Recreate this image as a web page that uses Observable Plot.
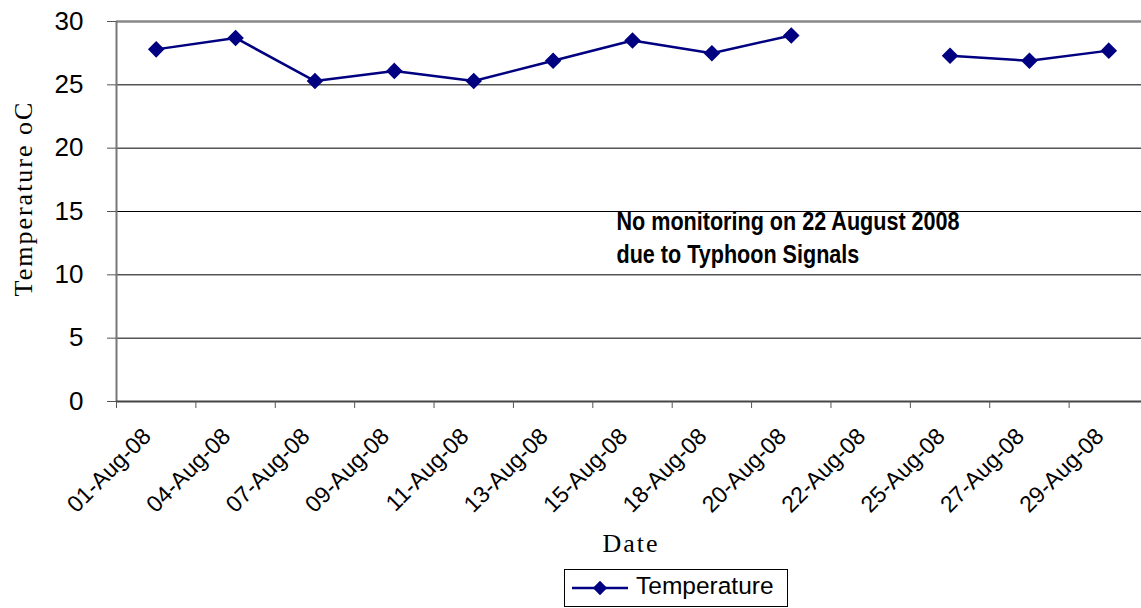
<!DOCTYPE html>
<html>
<head>
<meta charset="utf-8">
<script src="https://cdn.jsdelivr.net/npm/d3@7"></script>
<script src="https://cdn.jsdelivr.net/npm/@observablehq/plot@0.6"></script>
<style>
  html, body { margin: 0; padding: 0; background: #fff; }
  #wrap { position: relative; width: 1141px; height: 608px; overflow: hidden; }
  #legend { position: absolute; left: 564px; top: 569px; width: 222px; height: 36px; border: 1px solid #000; background: #fff; }
  #legend span { position: absolute; left: 71px; top: 2px; font: 24.5px "Liberation Sans", Arial, sans-serif; color: #000; white-space: nowrap; }
</style>
</head>
<body>
<div id="wrap"></div>
<script>
const dates = ["01-Aug-08","04-Aug-08","07-Aug-08","09-Aug-08","11-Aug-08","13-Aug-08","15-Aug-08","18-Aug-08","20-Aug-08","22-Aug-08","25-Aug-08","27-Aug-08","29-Aug-08"];
const temps = [27.8, 28.7, 25.3, 26.1, 25.3, 26.9, 28.5, 27.5, 28.9, null, 27.3, 26.9, 27.7];
const yTicks = [0, 5, 10, 15, 20, 25, 30];
const seriesName = "Temperature";
const note = "No monitoring on 22 August 2008\ndue to Typhoon Signals";
const xTitle = "Date";
const yTitle = "Temperature oC";

const data = dates.map((d, i) => ({i, date: d, t: temps[i]}));
const idx = d3.range(dates.length);
const bounds = d3.range(dates.length + 1).map(k => k - 0.5);
const navy = "#000080";

const chart = Plot.plot({
  width: 1141,
  height: 565,
  marginLeft: 116,
  marginRight: 0,
  marginTop: 21,
  marginBottom: 164,
  x: {type: "linear", domain: [-0.5, dates.length - 0.5], range: [116, 1148]},
  y: {domain: [0, 30], range: [401, 21]},
  style: {fontFamily: "'Liberation Sans', Arial, sans-serif", color: "#000", background: "#fff"},
  marks: [
    Plot.ruleY(yTicks.filter(v => v > 0 && v < 30), {stroke: "#000", strokeWidth: 1}),
    Plot.ruleY([30], {stroke: "#888", strokeWidth: 2.5}),
    Plot.ruleX([-0.5], {y1: 0, y2: 30, stroke: "#777", strokeWidth: 2}),
    Plot.ruleY([0], {stroke: "#444", strokeWidth: 2}),
    Plot.axisX(bounds, {tickSize: 7, tickFormat: () => "", stroke: "#555", label: null}),
    Plot.axisX(idx, {tickSize: 0, tickFormat: i => dates[i], tickRotate: -45, fontSize: 23, tickPadding: 14, dx: -9, dy: 17, label: null}),
    Plot.axisY(yTicks, {tickSize: 9, tickPadding: 24, fontSize: 26, stroke: "#555", label: null}),
    Plot.line(data, {x: "i", y: "t", stroke: navy, strokeWidth: 2.5}),
    Plot.dot(data.filter(d => d.t != null), {x: "i", y: "t", symbol: "diamond2", r: 6.5, fill: navy, stroke: navy}),
    Plot.text([note], {text: d => d, frameAnchor: "top-left", dx: 500, dy: 186, textAnchor: "start", lineAnchor: "top", fontSize: 26, fontWeight: "bold", fontFamily: "'Liberation Sans', Arial, sans-serif", lineHeight: 1.24}),
    Plot.text([xTitle], {text: d => d, frameAnchor: "bottom", dx: 2, dy: 150, fontSize: 26, fontFamily: "'Liberation Serif', serif"}),
    Plot.text([yTitle], {text: d => d, frameAnchor: "left", textAnchor: "middle", dx: -93, dy: -13, rotate: -90, fontSize: 26, fontFamily: "'Liberation Serif', serif"})
  ]
});
const wrap = document.getElementById("wrap");
wrap.appendChild(chart);

// condense the bold note (Arial Narrow look) and widen the SimSun-like titles
d3.select(chart).selectAll("text").each(function() {
  const t = this.textContent;
  const sel = d3.select(this);
  if (t.startsWith("No monitoring")) {
    const tr = sel.attr("transform") || "";
    sel.attr("transform", tr + " scale(0.83,1)");
  } else if (t === yTitle || t === xTitle) {
    sel.style("letter-spacing", "2px").style("font-weight", "300");
  }
});

const legend = document.createElement("div");
legend.id = "legend";
const ls = d3.create("svg").attr("width", 70).attr("height", 36).style("position", "absolute").style("left", "0").style("top", "0");
ls.append("line").attr("x1", 7).attr("x2", 63).attr("y1", 18).attr("y2", 18).attr("stroke", navy).attr("stroke-width", 2.5);
ls.append("path").attr("d", d3.symbol(d3.symbolDiamond2, 130)()).attr("transform", "translate(35,18)").attr("fill", navy);
legend.appendChild(ls.node());
const sp = document.createElement("span");
sp.textContent = seriesName;
legend.appendChild(sp);
wrap.appendChild(legend);
</script>
</body>
</html>
